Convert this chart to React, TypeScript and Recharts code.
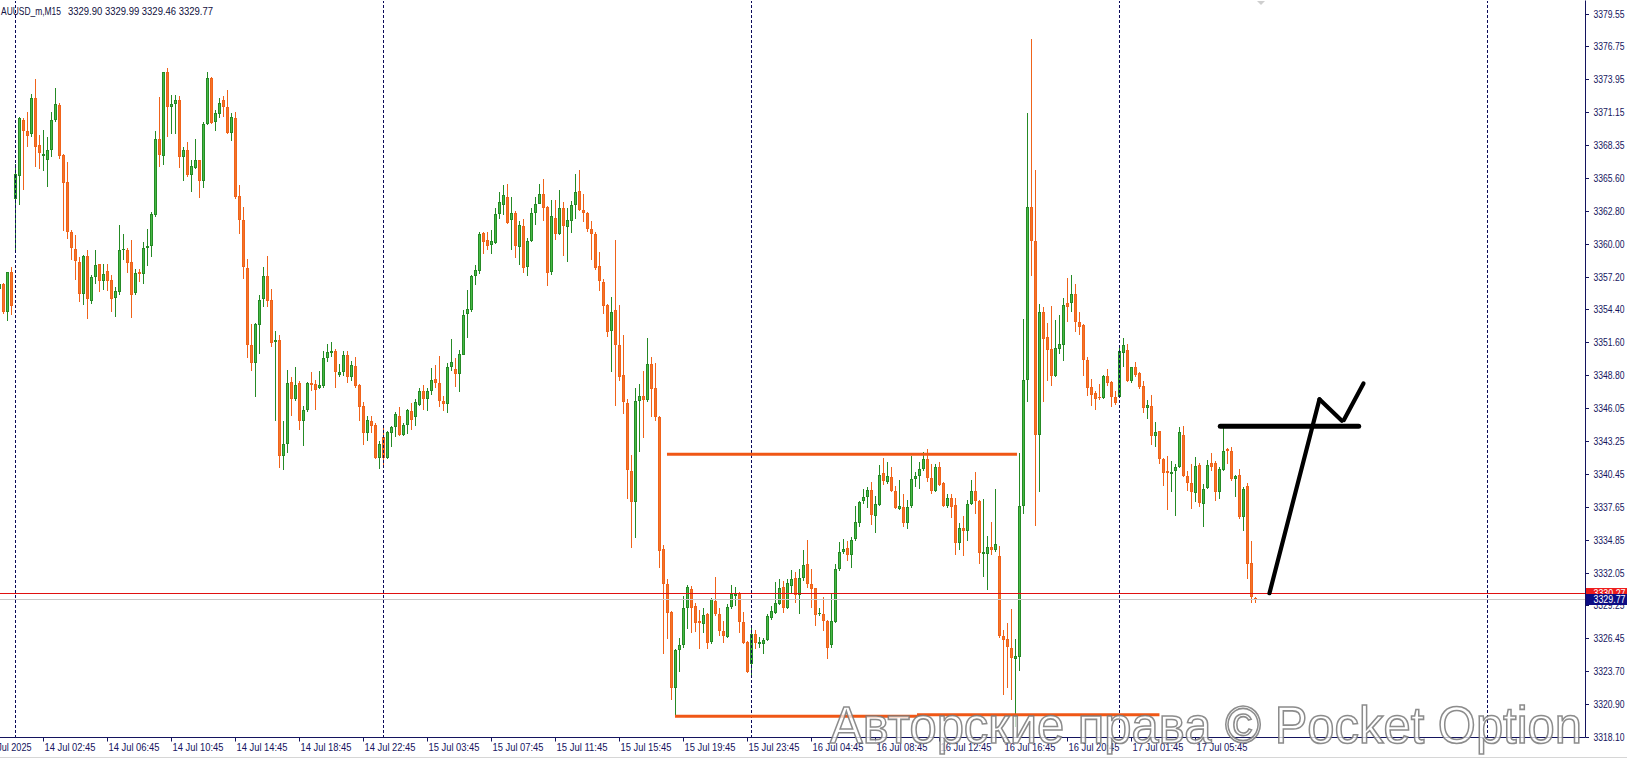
import React from 'react';
import { ComposedChart, Bar, XAxis, YAxis, ReferenceLine } from 'recharts';

const NAVY = '#14145e';
const FONT = "'Liberation Sans', Arial, sans-serif";

// M15 candles, bar index 0 .. 314
const opens = [
  3356.16, 3356.53, 3354.17, 3357.55, 3363.82, 3365.75, 3370.49, 3369.55, 3369.35, 3372.33,
  3368.36, 3367.45, 3367.14, 3367.99, 3370.48, 3371.76, 3367.51, 3365.24, 3360.98, 3359.56,
  3358.43, 3355.73, 3358.91, 3355.16, 3357.15, 3358.23, 3356.81, 3357.63, 3356.87, 3355.39,
  3355.87, 3359.42, 3359.42, 3358.43, 3355.79, 3357.58, 3357.43, 3359.62, 3359.79, 3362.46,
  3368.92, 3367.45, 3374.54, 3371.62, 3371.90, 3372.24, 3367.36, 3367.93, 3365.80, 3366.46,
  3367.08, 3365.32, 3370.14, 3374.03, 3370.34, 3371.05, 3372.19, 3371.62, 3369.41, 3370.63,
  3364.02, 3362.03, 3357.95, 3351.42, 3349.83, 3353.04, 3355.31, 3357.21, 3355.17, 3351.62,
  3351.82, 3341.97, 3342.97, 3348.27, 3346.80, 3348.16, 3344.89, 3345.86, 3348.16, 3348.07,
  3347.73, 3347.93, 3350.29, 3350.68, 3350.91, 3348.84, 3349.07, 3350.57, 3348.64, 3349.63,
  3348.02, 3346.23, 3343.88, 3344.95, 3344.61, 3341.77, 3343.59, 3341.77, 3343.88, 3344.44,
  3345.38, 3343.76, 3344.61, 3345.80, 3345.24, 3346.32, 3347.45, 3346.80, 3347.45, 3348.50,
  3348.16, 3346.66, 3346.37, 3349.55, 3349.35, 3348.92, 3350.57, 3354.03, 3354.37, 3357.21,
  3357.66, 3360.90, 3360.27, 3359.90, 3360.05, 3362.54, 3363.25, 3363.96, 3361.98, 3362.63,
  3359.71, 3361.47, 3358.00, 3360.22, 3362.63, 3363.39, 3364.25, 3363.11, 3357.58, 3362.20,
  3360.84, 3363.05, 3361.41, 3361.92, 3363.25, 3364.47, 3362.83, 3362.63, 3361.21, 3360.84,
  3358.06, 3356.73, 3354.74, 3352.56, 3354.32, 3351.34, 3348.87, 3346.43, 3340.70, 3338.00,
  3346.60, 3347.08, 3346.71, 3349.78, 3347.73, 3345.24, 3334.03, 3331.05, 3328.73, 3322.26,
  3325.44, 3325.89, 3329.01, 3330.63, 3329.21, 3327.93, 3327.71, 3328.50, 3326.17, 3329.63,
  3328.56, 3327.08, 3326.57, 3329.12, 3330.06, 3330.20, 3327.88, 3326.17, 3324.24, 3326.85,
  3326.00, 3326.00, 3326.29, 3328.22, 3328.64, 3329.41, 3330.83, 3329.07, 3330.91, 3331.56,
  3330.14, 3331.62, 3332.81, 3331.05, 3330.71, 3328.50, 3328.56, 3327.93, 3325.89, 3327.88,
  3332.33, 3333.75, 3334.12, 3333.55, 3334.88, 3336.22, 3338.15, 3338.43, 3339.08, 3336.87,
  3337.81, 3340.47, 3339.71, 3340.13, 3338.94, 3337.42, 3337.61, 3336.28, 3337.69, 3339.97,
  3340.28, 3340.85, 3341.69, 3340.09, 3338.95, 3341.04, 3339.63, 3337.69, 3338.37, 3337.80,
  3334.57, 3335.83, 3335.60, 3337.88, 3338.95, 3338.11, 3333.62, 3333.62, 3334.19, 3333.99,
  3333.43, 3326.69, 3326.39, 3325.62, 3324.67, 3324.86, 3337.73, 3348.39, 3363.11, 3360.18,
  3343.70, 3354.17, 3352.10, 3351.05, 3348.78, 3351.05, 3351.34, 3354.94, 3354.94, 3355.68,
  3353.32, 3353.04, 3350.12, 3347.85, 3347.28, 3346.94, 3346.88, 3348.78, 3348.22, 3346.94,
  3347.00, 3350.69, 3350.97, 3348.30, 3349.49, 3348.98, 3347.93, 3346.03, 3346.23, 3343.68,
  3344.05, 3341.69, 3340.64, 3340.42, 3340.70, 3340.98, 3343.76, 3340.27, 3339.62, 3338.77,
  3341.21, 3337.86, 3339.22, 3341.32, 3341.32, 3338.85, 3340.76, 3342.51, 3342.40, 3339.99,
  3340.36, 3336.78, 3339.42, 3332.90, 3329.90,
];
const highs = [
  3356.72, 3356.64, 3357.60, 3357.99, 3366.74, 3370.77, 3370.63, 3371.19, 3372.70, 3373.97,
  3369.21, 3369.69, 3369.07, 3371.19, 3373.21, 3371.96, 3367.65, 3366.94, 3361.12, 3360.70,
  3358.85, 3359.00, 3359.42, 3357.29, 3359.48, 3358.28, 3358.28, 3358.28, 3357.29, 3356.30,
  3361.55, 3360.78, 3359.65, 3360.27, 3357.86, 3357.86, 3360.13, 3361.27, 3362.68, 3369.58,
  3372.47, 3374.60, 3374.88, 3372.61, 3372.61, 3372.53, 3368.21, 3368.64, 3367.08, 3368.92,
  3367.08, 3370.34, 3374.54, 3374.17, 3371.34, 3372.41, 3372.53, 3373.04, 3371.11, 3371.19,
  3365.00, 3363.11, 3358.71, 3353.13, 3353.24, 3355.59, 3358.00, 3358.91, 3356.16, 3352.61,
  3352.27, 3344.95, 3349.27, 3348.64, 3349.55, 3348.36, 3346.23, 3348.27, 3349.07, 3348.41,
  3349.21, 3350.91, 3351.48, 3351.62, 3351.05, 3349.78, 3350.86, 3350.91, 3350.06, 3350.34,
  3348.07, 3346.52, 3345.38, 3345.38, 3344.72, 3343.25, 3344.44, 3344.10, 3344.53, 3345.66,
  3346.15, 3344.72, 3345.94, 3346.43, 3346.80, 3347.73, 3348.02, 3347.73, 3349.44, 3349.72,
  3350.48, 3347.08, 3349.83, 3351.91, 3350.29, 3350.97, 3354.37, 3356.02, 3357.30, 3358.15,
  3360.98, 3360.98, 3360.98, 3361.13, 3363.05, 3364.39, 3364.96, 3365.04, 3363.96, 3362.77,
  3361.92, 3362.06, 3360.50, 3363.05, 3363.96, 3365.04, 3365.52, 3363.17, 3363.68, 3363.74,
  3364.59, 3363.54, 3363.05, 3363.62, 3365.89, 3366.29, 3364.25, 3362.68, 3361.92, 3360.98,
  3359.28, 3357.01, 3354.83, 3355.45, 3360.33, 3354.74, 3352.27, 3346.80, 3342.06, 3347.73,
  3348.07, 3349.16, 3351.99, 3350.40, 3349.83, 3345.38, 3334.40, 3331.48, 3328.78, 3325.52,
  3326.46, 3330.06, 3331.00, 3330.91, 3329.49, 3328.84, 3329.07, 3328.64, 3329.86, 3331.68,
  3329.07, 3327.93, 3329.41, 3330.99, 3330.83, 3330.43, 3328.73, 3326.23, 3327.51, 3327.14,
  3326.57, 3326.46, 3328.56, 3329.21, 3331.28, 3331.48, 3331.34, 3331.48, 3332.24, 3332.13,
  3332.33, 3333.95, 3334.80, 3332.33, 3330.77, 3329.07, 3329.97, 3327.99, 3330.20, 3332.75,
  3334.60, 3334.88, 3334.74, 3335.03, 3337.72, 3338.15, 3339.14, 3339.28, 3339.71, 3338.57,
  3341.21, 3341.78, 3341.41, 3340.98, 3339.42, 3339.90, 3338.76, 3338.18, 3341.92, 3340.55,
  3341.42, 3342.30, 3342.56, 3341.31, 3341.23, 3341.42, 3339.78, 3338.76, 3338.76, 3338.37,
  3336.28, 3336.85, 3338.18, 3339.90, 3340.55, 3338.18, 3338.26, 3335.14, 3336.36, 3339.13,
  3334.30, 3327.15, 3327.72, 3328.97, 3326.39, 3342.18, 3353.60, 3371.11, 3377.39, 3366.27,
  3354.85, 3354.60, 3353.22, 3354.66, 3353.52, 3353.89, 3355.39, 3357.10, 3357.30, 3356.59,
  3354.17, 3353.13, 3350.40, 3348.50, 3347.51, 3348.07, 3348.87, 3349.35, 3348.30, 3347.51,
  3351.20, 3351.99, 3351.48, 3349.55, 3349.92, 3349.07, 3348.36, 3346.71, 3347.17, 3344.81,
  3344.10, 3341.78, 3341.98, 3341.49, 3341.27, 3344.44, 3344.53, 3340.70, 3341.27, 3341.89,
  3341.32, 3339.56, 3341.61, 3342.17, 3341.49, 3340.98, 3344.38, 3342.63, 3342.74, 3340.36,
  3340.84, 3339.28, 3339.62, 3334.69, 3329.99,
];
const lows = [
  3356.01, 3354.03, 3353.46, 3353.89, 3359.28, 3363.25, 3364.53, 3368.21, 3369.07, 3366.51,
  3366.37, 3366.17, 3364.81, 3367.36, 3370.34, 3367.22, 3361.07, 3360.41, 3358.57, 3356.87,
  3355.02, 3354.74, 3353.60, 3354.88, 3356.53, 3355.87, 3356.07, 3356.01, 3354.17, 3353.75,
  3355.59, 3358.57, 3357.52, 3353.69, 3355.59, 3356.72, 3356.58, 3358.06, 3358.85, 3362.26,
  3366.51, 3366.65, 3369.07, 3369.35, 3369.35, 3366.46, 3365.32, 3365.66, 3364.39, 3366.37,
  3363.90, 3364.75, 3370.06, 3370.20, 3369.58, 3370.63, 3370.77, 3369.35, 3368.73, 3363.82,
  3360.84, 3357.01, 3350.29, 3349.21, 3346.94, 3350.63, 3354.60, 3354.60, 3351.20, 3344.89,
  3340.93, 3340.76, 3342.17, 3345.38, 3346.60, 3344.16, 3342.83, 3345.66, 3347.51, 3345.89,
  3347.65, 3347.73, 3349.92, 3350.34, 3347.73, 3348.64, 3348.78, 3348.13, 3348.36, 3347.73,
  3344.95, 3342.91, 3343.20, 3343.88, 3341.69, 3340.84, 3341.04, 3341.69, 3342.68, 3343.54,
  3343.68, 3343.68, 3343.82, 3344.16, 3344.53, 3346.23, 3345.86, 3345.80, 3347.17, 3347.73,
  3346.09, 3345.80, 3345.58, 3349.21, 3347.79, 3347.36, 3350.49, 3351.99, 3354.17, 3356.44,
  3357.38, 3359.14, 3359.42, 3359.08, 3359.99, 3362.12, 3362.40, 3361.64, 3359.42, 3358.80,
  3358.15, 3357.49, 3357.21, 3360.13, 3361.55, 3363.34, 3361.92, 3356.36, 3357.30, 3360.33,
  3360.70, 3358.91, 3358.43, 3360.90, 3362.12, 3362.77, 3361.83, 3360.98, 3358.63, 3357.78,
  3355.96, 3354.03, 3352.10, 3349.07, 3346.23, 3348.30, 3345.52, 3338.29, 3334.12, 3334.97,
  3342.26, 3343.48, 3346.52, 3345.24, 3344.89, 3332.47, 3325.10, 3326.37, 3321.18, 3319.85,
  3323.62, 3325.66, 3327.22, 3326.94, 3327.03, 3325.52, 3326.94, 3325.52, 3326.00, 3328.36,
  3326.66, 3326.09, 3326.46, 3328.92, 3329.21, 3326.94, 3326.00, 3323.54, 3323.25, 3325.52,
  3325.66, 3325.15, 3326.23, 3327.99, 3328.50, 3329.30, 3328.64, 3328.92, 3330.20, 3329.49,
  3328.56, 3331.34, 3330.77, 3329.07, 3327.51, 3328.36, 3327.08, 3324.67, 3325.66, 3327.79,
  3332.19, 3333.61, 3333.04, 3332.47, 3334.74, 3335.88, 3337.86, 3337.52, 3336.10, 3335.37,
  3337.72, 3339.51, 3339.56, 3338.85, 3337.44, 3337.35, 3335.90, 3335.71, 3337.50, 3339.32,
  3339.13, 3340.66, 3339.71, 3338.76, 3338.87, 3339.40, 3337.61, 3337.50, 3336.66, 3333.54,
  3333.99, 3333.43, 3334.76, 3337.80, 3337.04, 3332.78, 3331.71, 3330.57, 3333.54, 3333.81,
  3326.46, 3321.63, 3322.20, 3321.25, 3318.96, 3323.65, 3337.04, 3346.56, 3357.21, 3335.98,
  3338.87, 3346.52, 3348.36, 3347.93, 3348.70, 3350.63, 3350.00, 3353.32, 3354.17, 3352.47,
  3352.19, 3348.78, 3347.08, 3346.23, 3345.86, 3346.71, 3346.80, 3347.93, 3346.09, 3346.32,
  3346.94, 3349.49, 3348.22, 3348.13, 3348.70, 3347.65, 3345.58, 3345.10, 3342.91, 3342.69,
  3341.27, 3339.42, 3337.35, 3338.85, 3336.87, 3340.93, 3340.13, 3339.00, 3337.44, 3338.00,
  3337.58, 3335.93, 3339.14, 3340.70, 3338.09, 3338.29, 3340.70, 3341.27, 3339.85, 3338.43,
  3336.58, 3335.59, 3331.48, 3329.49, 3329.46,
];
const closes = [
  3356.53, 3354.17, 3357.55, 3354.68, 3365.94, 3370.63, 3369.58, 3369.12, 3372.41, 3368.21,
  3367.70, 3367.65, 3367.99, 3370.48, 3371.90, 3367.45, 3365.18, 3360.98, 3359.62, 3358.51,
  3355.73, 3358.91, 3355.31, 3357.15, 3358.14, 3356.81, 3357.43, 3356.81, 3355.31, 3356.01,
  3359.48, 3359.56, 3358.37, 3355.65, 3357.52, 3357.43, 3359.65, 3359.76, 3362.54, 3368.92,
  3367.51, 3374.54, 3371.62, 3371.85, 3372.19, 3367.36, 3367.99, 3365.80, 3366.57, 3367.08,
  3365.32, 3370.14, 3374.03, 3370.26, 3371.11, 3371.96, 3371.62, 3369.41, 3370.77, 3363.96,
  3362.03, 3358.00, 3351.34, 3349.83, 3353.13, 3355.17, 3357.24, 3355.11, 3351.54, 3351.82,
  3341.97, 3342.97, 3348.16, 3346.80, 3347.99, 3344.89, 3345.86, 3348.16, 3348.02, 3347.56,
  3347.99, 3350.29, 3350.77, 3350.91, 3349.07, 3349.07, 3350.57, 3348.64, 3349.72, 3347.93,
  3346.09, 3343.88, 3345.01, 3344.53, 3341.77, 3342.97, 3341.77, 3343.96, 3344.44, 3345.52,
  3343.76, 3344.61, 3345.86, 3345.01, 3346.52, 3347.45, 3346.80, 3347.45, 3348.41, 3348.16,
  3346.66, 3346.37, 3349.55, 3349.92, 3348.92, 3350.63, 3353.89, 3354.46, 3357.21, 3357.72,
  3360.84, 3360.13, 3359.79, 3360.19, 3362.54, 3363.54, 3364.10, 3361.75, 3362.63, 3359.76,
  3361.55, 3357.95, 3360.22, 3362.63, 3363.39, 3364.19, 3363.05, 3357.49, 3362.32, 3360.84,
  3363.05, 3361.47, 3361.98, 3363.25, 3364.39, 3362.83, 3362.60, 3361.21, 3360.84, 3357.95,
  3356.81, 3354.66, 3352.47, 3354.17, 3351.34, 3348.64, 3346.52, 3340.76, 3338.00, 3346.60,
  3347.08, 3346.71, 3349.78, 3347.65, 3345.24, 3333.89, 3331.05, 3328.64, 3322.26, 3325.44,
  3325.89, 3329.01, 3330.83, 3329.01, 3327.79, 3327.79, 3328.44, 3326.09, 3329.78, 3328.50,
  3327.08, 3326.66, 3329.12, 3330.20, 3330.20, 3327.88, 3326.09, 3323.62, 3326.80, 3326.09,
  3326.17, 3326.29, 3328.36, 3328.78, 3329.49, 3330.71, 3329.07, 3331.19, 3331.48, 3330.14,
  3331.62, 3332.70, 3331.05, 3330.63, 3328.44, 3328.64, 3327.93, 3325.66, 3327.93, 3332.33,
  3333.83, 3334.03, 3333.55, 3334.80, 3336.30, 3338.00, 3338.43, 3339.05, 3336.95, 3337.86,
  3340.36, 3339.79, 3340.27, 3338.94, 3337.52, 3337.73, 3336.28, 3337.61, 3339.97, 3340.28,
  3340.85, 3341.69, 3340.09, 3338.95, 3341.04, 3339.52, 3337.69, 3338.37, 3337.61, 3334.57,
  3335.83, 3335.60, 3337.88, 3338.95, 3338.11, 3333.69, 3333.81, 3334.19, 3333.92, 3334.45,
  3326.69, 3326.31, 3325.70, 3324.78, 3324.94, 3337.73, 3348.39, 3363.11, 3360.26, 3343.70,
  3354.17, 3351.90, 3350.97, 3348.78, 3351.14, 3351.48, 3354.74, 3354.60, 3355.68, 3353.32,
  3352.90, 3350.12, 3347.73, 3347.17, 3346.80, 3346.85, 3348.78, 3348.13, 3346.94, 3346.43,
  3350.86, 3351.34, 3348.30, 3349.49, 3348.87, 3347.79, 3346.03, 3346.32, 3343.68, 3343.96,
  3341.69, 3340.47, 3340.47, 3340.56, 3341.04, 3343.96, 3340.27, 3339.62, 3338.85, 3341.13,
  3337.92, 3339.14, 3341.21, 3341.04, 3338.85, 3340.84, 3342.40, 3342.40, 3339.99, 3340.27,
  3336.78, 3339.14, 3332.81, 3329.93, 3329.77,
];

const timeTickBars = [-4, 11, 27, 43, 59, 75, 91, 107, 123, 139, 155, 171, 187, 203, 219, 235, 251, 267, 283, 299];
const timeTickLabels = [
  '14 Jul 2025', '14 Jul 02:45', '14 Jul 06:45', '14 Jul 10:45', '14 Jul 14:45', '14 Jul 18:45',
  '14 Jul 22:45', '15 Jul 03:45', '15 Jul 07:45', '15 Jul 11:45', '15 Jul 15:45', '15 Jul 19:45',
  '15 Jul 23:45', '16 Jul 04:45', '16 Jul 08:45', '16 Jul 12:45', '16 Jul 16:45', '16 Jul 20:45',
  '17 Jul 01:45', '17 Jul 05:45',
];
const priceTicks = [
  3379.55, 3376.75, 3373.95, 3371.15, 3368.35, 3365.6, 3362.8, 3360.0, 3357.2, 3354.4, 3351.6,
  3348.8, 3346.05, 3343.25, 3340.45, 3337.65, 3334.85, 3332.05, 3329.25, 3326.45, 3323.7, 3320.9, 3318.1,
];
const askPrice = 3330.27;
const bidPrice = 3329.77;
const gridBars = [4, 96, 188, 280, 372];

// hand-drawn objects (bar index, price)
const orangeSegments = [
  { x1: 166.9, y1: 3342.1, x2: 254.4, y2: 3342.1 },
  { x1: 168.9, y1: 3319.84, x2: 229.4, y2: 3319.84 },
  { x1: 229.4, y1: 3319.97, x2: 290.0, y2: 3319.97 },
];
const blackSegments = [
  { x1: 305.2, y1: 3344.48, x2: 339.8, y2: 3344.48, w: 5 },
  { x1: 317.5, y1: 3330.29, x2: 330.0, y2: 3346.77, w: 4.2 },
  { x1: 330.0, y1: 3346.77, x2: 335.6, y2: 3344.95, w: 4.2 },
  { x1: 336.1, y1: 3345.01, x2: 341.0, y2: 3348.12, w: 4.2 },
];

const data = opens.map((o, i) => ({ i, o, h: highs[i], l: lows[i], c: closes[i] }));

function Candle(props: any) {
  const { x, y, width, height, payload } = props;
  if (!payload || x == null || y == null) return <g />;
  const { o, h, l, c } = payload;
  const top = Math.min(y, y + height);
  const bot = Math.max(y, y + height);
  const span = h - l;
  const py = (v: number) => (span > 0 ? top + ((h - v) / span) * (bot - top) : top);
  const cx = Math.round(x + width / 2 - 0.5);
  const bull = c >= o;
  const edge = bull ? '#258a25' : '#f0631a';
  const fill = bull ? '#45b945' : '#f47429';
  const wt = Math.round(top);
  const wb = Math.max(Math.round(bot), wt + 1);
  const bt = Math.round(py(Math.max(o, c)));
  const bb = Math.max(Math.round(py(Math.min(o, c))), bt + 1);
  return (
    <g>
      <rect x={cx} y={wt} width={1} height={wb - wt} fill={edge} />
      <rect x={cx - 1} y={bt} width={3} height={bb - bt} fill={edge} />
      {bb - bt > 2 && <rect x={cx} y={bt + 1} width={1} height={bb - bt - 2} fill={fill} />}
    </g>
  );
}

function PriceTick(props: any) {
  const { x, y, payload } = props;
  const v = payload.value as number;
  const axisX = x - 8;
  const yy = Math.round(y);
  if (v === askPrice || v === bidPrice) {
    const bg = v === askPrice ? '#ee1c1c' : '#0c0c84';
    return (
      <g>
        <rect x={axisX + 0.5} y={yy - 5} width={44} height={11} fill={bg} />
        <text x={x} y={yy + 4} fill="#ffffff" fontSize={10.5} fontFamily={FONT} textLength={32} lengthAdjust="spacingAndGlyphs">
          {v.toFixed(2)}
        </text>
      </g>
    );
  }
  return (
    <g>
      <rect x={axisX} y={yy} width={3.5} height={1} fill={NAVY} />
      <text x={x} y={yy + 4} fill={NAVY} fontSize={10} fontFamily={FONT} textLength={31} lengthAdjust="spacingAndGlyphs">
        {v.toFixed(2)}
      </text>
    </g>
  );
}

function TimeTick(props: any) {
  const { x, y, payload } = props;
  const idx = timeTickBars.indexOf(payload.value);
  const label = idx >= 0 ? timeTickLabels[idx] : '';
  const axisY = y - 4;
  const xx = Math.round(x);
  const isDate = label.length === 11;
  return (
    <g>
      {!isDate && <rect x={xx} y={axisY} width={1} height={4} fill={NAVY} />}
      <text x={xx + 1.5} y={axisY + 13.5} fill={NAVY} fontSize={10} fontFamily={FONT} textLength={isDate ? 47 : 51} lengthAdjust="spacingAndGlyphs">
        {label}
      </text>
    </g>
  );
}

export default function App() {
  return (
    <div style={{ position: 'relative', width: 1627, height: 763, background: '#ffffff', overflow: 'hidden' }}>
      <style>{'body{margin:0;background:#fff}'}</style>
      <ComposedChart width={1627} height={763} data={data} margin={{ top: 0.5, right: 0, bottom: 0, left: 0 }}>
        <XAxis
          xAxisId="top"
          orientation="top"
          type="number"
          dataKey="i"
          domain={[0.175, 396.5]}
          allowDataOverflow
          height={0}
          tick={false}
          tickLine={false}
          axisLine={{ stroke: NAVY }}
        />
        <XAxis
          type="number"
          dataKey="i"
          domain={[0.175, 396.5]}
          allowDataOverflow
          ticks={timeTickBars}
          interval={0}
          height={25.5}
          tickSize={4}
          tickMargin={0}
          tickLine={false}
          axisLine={{ stroke: NAVY }}
          tick={<TimeTick />}
        />
        <YAxis
          orientation="right"
          type="number"
          domain={[3318.03, 3380.655]}
          allowDataOverflow
          ticks={[...priceTicks, askPrice, bidPrice]}
          interval={0}
          width={41.5}
          tickSize={6}
          tickMargin={2}
          tickLine={false}
          axisLine={{ stroke: NAVY }}
          tick={<PriceTick />}
        />
        {gridBars.map((g) => (
          <ReferenceLine key={'g' + g} x={g} stroke="#0a0a5a" strokeDasharray="3 2" shapeRendering="crispEdges" />
        ))}
        <ReferenceLine y={bidPrice} stroke="#c8c8c8" shapeRendering="crispEdges" />
        <ReferenceLine y={askPrice} stroke="#e01010" shapeRendering="crispEdges" />
        <Bar dataKey={(d: any) => [d.l, d.h]} barSize={3} shape={(p: any) => <Candle {...p} />} isAnimationActive={false} />
        {orangeSegments.map((s, k) => (
          <ReferenceLine
            key={'o' + k}
            segment={[{ x: s.x1, y: s.y1 }, { x: s.x2, y: s.y2 }]}
            stroke="#f05716"
            strokeWidth={3}
          />
        ))}
        {blackSegments.map((s, k) => (
          <ReferenceLine
            key={'b' + k}
            segment={[{ x: s.x1, y: s.y1 }, { x: s.x2, y: s.y2 }]}
            stroke="#000000"
            strokeWidth={s.w}
            strokeLinecap="round"
          />
        ))}
      </ComposedChart>
      <svg width={1627} height={763} style={{ position: 'absolute', left: 0, top: 0, pointerEvents: 'none' }}>
        <text x={1} y={15} fill="#101040" fontSize={10.5} fontFamily={FONT} textLength={60} lengthAdjust="spacingAndGlyphs">
          AUUSD_m,M15
        </text>
        <text x={68} y={15} fill="#101040" fontSize={10.5} fontFamily={FONT} textLength={145} lengthAdjust="spacingAndGlyphs">
          3329.90 3329.99 3329.46 3329.77
        </text>
        <polygon points="1257,1 1265,1 1261,5" fill="#cfcfcf" />
        <rect x={0} y={757} width={1627} height={1} fill="#d6d6d6" />
        <text
          x={830}
          y={743}
          fontSize={52}
          fontFamily={FONT}
          fill="rgba(255,255,255,0.72)"
          stroke="rgba(120,120,120,0.85)"
          strokeWidth={1.6}
          textLength={752}
          lengthAdjust="spacingAndGlyphs"
        >
          Авторские права © Pocket Option
        </text>
      </svg>
    </div>
  );
}
